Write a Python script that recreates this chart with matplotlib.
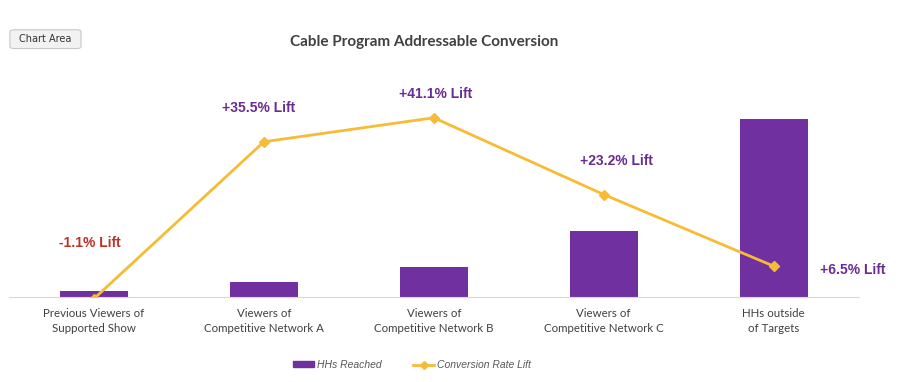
import numpy as np
import matplotlib.pyplot as plt
from matplotlib.patches import FancyBboxPatch, Patch
from matplotlib.lines import Line2D

categories = ['Previous Viewers of\nSupported Show', 'Viewers of\nCompetitive Network A',
              'Viewers of\nCompetitive Network B', 'Viewers of\nCompetitive Network C',
              'HHs outside\nof Targets']
hhs_reached = [55, 138, 276, 608, 1640]
conversion_lift = [-1.1, 35.5, 41.1, 23.2, 6.5]
lift_labels = ['-1.1% Lift', '+35.5% Lift', '+41.1% Lift', '+23.2% Lift', '+6.5% Lift']

PURPLE = '#7030a0'
GOLD = '#f7bb35'
GRAY_TXT = '#404040'

fig = plt.figure(figsize=(9, 3.82), dpi=100)
ax = fig.add_axes([0.01, 0.2225, 0.944, 0.568])
x = np.arange(len(categories))

ax.bar(x, hhs_reached, width=0.4, color=PURPLE, zorder=2)
ax.set_xlim(-0.5, 4.5)
ax.set_ylim(0, 2000)
ax.set_yticks([])
for s in ['top', 'right', 'left']:
    ax.spines[s].set_visible(False)
ax.spines['bottom'].set_color('#d9d9d9')
ax.set_xticks(x)
ax.set_xticklabels(categories, fontsize=8.3, color=GRAY_TXT, family='Lato', linespacing=1.45)
ax.tick_params(axis='x', length=0, pad=8)

ax2 = ax.twinx()
ax2.plot(x, conversion_lift, color=GOLD, lw=2, marker='D', ms=5, zorder=3)
ax2.set_ylim(-0.7, 49.9)
ax2.set_yticks([])
for s in ax2.spines.values():
    s.set_visible(False)

# label offsets in points (dx, dy) relative to each line point
offsets = [(-3, 40), (-4, 24), (1, 17), (9, 24), (57, -3)]
for i, (lbl, (dx, dy)) in enumerate(zip(lift_labels, offsets)):
    col = '#c0302a' if conversion_lift[i] < 0 else '#6a2c91'
    ax2.annotate(lbl, (x[i], conversion_lift[i]), xytext=(dx, dy), textcoords='offset points',
                 ha='center', va='center', fontsize=10, fontweight='bold', color=col,
                 family='Liberation Sans', annotation_clip=False)

fig.text(0.471, 0.89, 'Cable Program Addressable Conversion', ha='center', va='center',
         fontsize=11, fontweight='bold', color=GRAY_TXT, family='Lato')

# "Chart Area" tooltip box
box = FancyBboxPatch((0.013, 0.875), 0.075, 0.045, boxstyle='round,pad=0.002,rounding_size=0.005',
                     transform=fig.transFigure, facecolor='#f2f2f2', edgecolor='#c8c8c8', lw=0.8)
fig.patches.append(box)
fig.text(0.0505, 0.897, 'Chart Area', ha='center', va='center', fontsize=7, color='#333333')

handles = [Patch(color=PURPLE),
           Line2D([0], [0], color=GOLD, lw=2, marker='D', ms=4)]
fig.legend(handles, ['HHs Reached', 'Conversion Rate Lift'], loc='center', bbox_to_anchor=(0.458, 0.045),
           ncol=2, frameon=False, prop={'size': 7.5, 'style': 'italic', 'family': 'Liberation Sans'},
           labelcolor='#595959', handlelength=2.0, handleheight=0.45, handletextpad=0.3,
           columnspacing=3.0)

fig.savefig('out.png', dpi=100)
